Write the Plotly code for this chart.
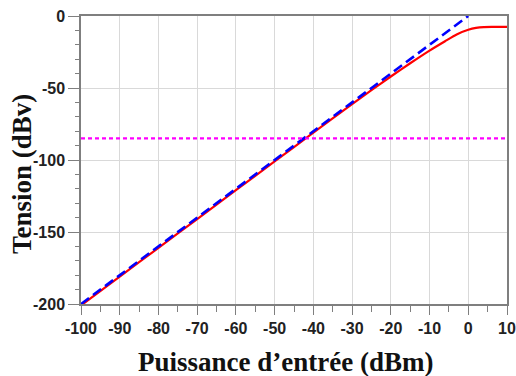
import plotly.graph_objects as go

# Puissance d'entrée (dBm) et tension de sortie (dBv)
p_in = [-100, -90, -80, -70, -60, -50, -40, -30, -25, -20, -15, -10, -6, -3, 0, 2, 4, 6, 8, 10]
v_out = [-201, -181, -161, -141, -121, -101, -81, -61.2, -51.5, -42, -32.8, -24, -17.5, -12.8, -9.6, -8.3, -7.7, -7.6, -7.6, -7.6]

# droite idéale (pente 2)
p_ideal = [-100, 0]
v_ideal = [-200, 0]

# seuil horizontal
seuil = -85

# graduations
x_ticks = [-100, -90, -80, -70, -60, -50, -40, -30, -20, -10, 0, 10]
y_ticks = [0, -50, -100, -150, -200]

fig = go.Figure()

fig.add_trace(go.Scatter(
    x=p_in, y=v_out, mode="lines",
    line=dict(color="#ff0000", width=2.2, shape="spline", smoothing=0.6),
    showlegend=False
))
fig.add_trace(go.Scatter(
    x=p_ideal, y=v_ideal, mode="lines",
    line=dict(color="#0000ff", width=2.6, dash="10px,5px"),
    showlegend=False
))
fig.add_trace(go.Scatter(
    x=[-100, 10], y=[seuil, seuil], mode="lines",
    line=dict(color="#ff00ff", width=2.2, dash="4px,3px"),
    showlegend=False
))

tick_font = dict(family="Liberation Sans", size=16, color="#222222", weight="bold")
title_font = dict(family="Liberation Serif", color="#111111")

fig.update_xaxes(
    range=[-100, 10],
    tickvals=x_ticks, ticktext=[str(v) for v in x_ticks],
    showgrid=True, gridcolor="#d9d9d9", gridwidth=1,
    showline=True, linecolor="#7f7f7f", linewidth=1.5, mirror=True,
    ticks="outside", ticklen=9, tickcolor="#7f7f7f",
    minor=dict(dtick=5, tick0=-100, ticks="outside", ticklen=6, tickcolor="#7f7f7f", showgrid=False),
    tickfont=tick_font, automargin=False, ticklabeloverflow="allow",
    zeroline=False,
)
fig.update_yaxes(
    range=[-200, 0],
    tickvals=y_ticks, ticktext=[str(v) for v in y_ticks],
    showgrid=True, gridcolor="#d9d9d9", gridwidth=1,
    showline=True, linecolor="#7f7f7f", linewidth=1.5, mirror=True,
    ticks="outside", ticklen=11, tickcolor="#7f7f7f",
    minor=dict(dtick=10, tick0=0, ticks="outside", ticklen=4, tickcolor="#7f7f7f", showgrid=False),
    tickfont=tick_font, automargin=False, ticklabeloverflow="allow",
    zeroline=False,
)

# titres des axes placés en annotations
fig.add_annotation(
    text="<b>Puissance d’entrée (dBm)</b>", xref="paper", yref="paper",
    x=0.479, y=-0.201, xanchor="center", yanchor="middle", showarrow=False,
    font=dict(size=27, **title_font)
)
fig.add_annotation(
    text="<b>Tension (dBv)</b>", xref="paper", yref="paper",
    x=-0.1385, y=0.451, xanchor="center", yanchor="middle", showarrow=False,
    textangle=-90, font=dict(size=27, **title_font)
)

fig.update_layout(
    width=516, height=376,
    margin=dict(l=81, r=9, t=16, b=72),
    plot_bgcolor="white", paper_bgcolor="white",
    font=dict(family="Liberation Sans"),
)

# pas de marge de page autour du graphique, pas de barre d'outils
fig.write_html("out.html", config={"displayModeBar": False},
               post_script="document.body.style.margin='0';")
